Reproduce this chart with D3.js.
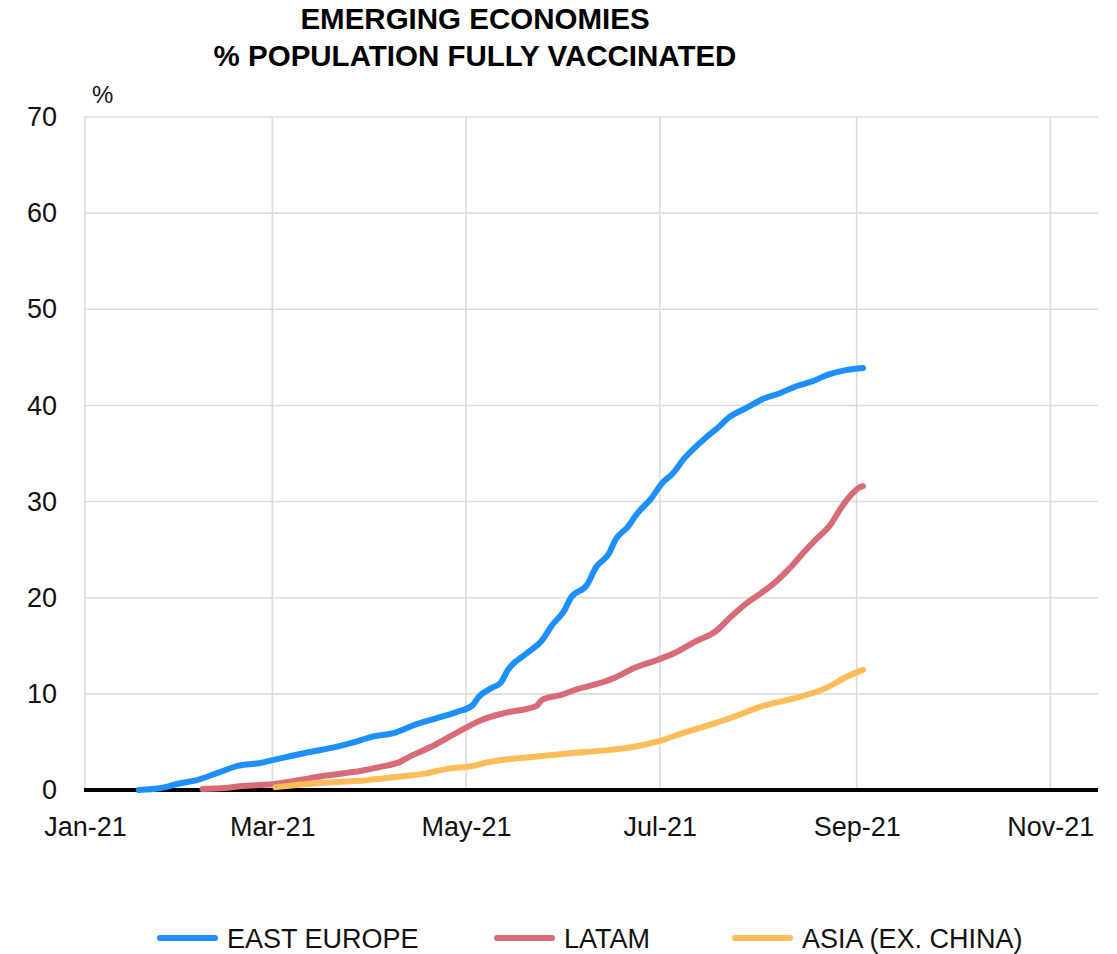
<!DOCTYPE html>
<html>
<head>
<meta charset="utf-8">
<script src="https://cdn.jsdelivr.net/npm/d3@7"></script>
<style>
  html, body { margin: 0; padding: 0; background: #fff; }
  svg { display: block; font-family: "Liberation Sans", Arial, sans-serif; }
</style>
</head>
<body>
<svg id="chart" width="1117" height="954"></svg>
<script>
// ---- Data ----
const titleLines = ["EMERGING ECONOMIES", "% POPULATION FULLY VACCINATED"];
const yTicks = [0, 10, 20, 30, 40, 50, 60, 70];
const xTickDates = ["2021-01-01", "2021-03-01", "2021-05-01", "2021-07-01", "2021-09-01", "2021-11-01"];
const xTickLabels = ["Jan-21", "Mar-21", "May-21", "Jul-21", "Sep-21", "Nov-21"];
const seriesNames = ["EAST EUROPE", "LATAM", "ASIA (EX. CHINA)"];

const eastEuropeDates = ["2021-01-18","2021-01-25","2021-01-31","2021-02-05","2021-02-12","2021-02-18","2021-02-25","2021-03-01","2021-03-05","2021-03-12","2021-03-20","2021-03-26","2021-04-01","2021-04-09","2021-04-15","2021-04-22","2021-04-28","2021-05-03","2021-05-05","2021-05-09","2021-05-12","2021-05-14","2021-05-20","2021-05-25","2021-05-28","2021-06-01","2021-06-03","2021-06-08","2021-06-11","2021-06-15","2021-06-17","2021-06-21","2021-06-24","2021-06-28","2021-07-02","2021-07-05","2021-07-09","2021-07-12","2021-07-16","2021-07-19","2021-07-23","2021-07-28","2021-08-02","2021-08-08","2021-08-13","2021-08-18","2021-08-23","2021-08-29","2021-09-03"];
const eastEuropeValues = [0.0,0.2,0.7,1.0,1.8,2.5,2.8,3.1,3.4,3.9,4.4,4.9,5.5,6.0,6.8,7.5,8.1,8.8,9.7,10.6,11.2,12.4,14.2,15.6,17.1,18.7,20.0,21.3,23.2,24.6,26.0,27.4,28.8,30.2,32.0,32.9,34.6,35.6,36.8,37.6,38.8,39.7,40.6,41.3,42.0,42.5,43.2,43.7,43.9];

const latamDates = ["2021-02-07","2021-02-14","2021-02-19","2021-03-01","2021-03-07","2021-03-18","2021-03-29","2021-04-04","2021-04-10","2021-04-14","2021-04-20","2021-04-25","2021-04-30","2021-05-06","2021-05-13","2021-05-23","2021-05-25","2021-05-31","2021-06-05","2021-06-11","2021-06-17","2021-06-23","2021-06-30","2021-07-06","2021-07-12","2021-07-19","2021-07-23","2021-07-29","2021-08-02","2021-08-07","2021-08-11","2021-08-15","2021-08-19","2021-08-24","2021-08-27","2021-08-30","2021-09-02","2021-09-03"];
const latamValues = [0.1,0.2,0.4,0.6,0.9,1.5,2.0,2.4,2.9,3.6,4.5,5.4,6.3,7.3,8.0,8.7,9.4,9.9,10.5,11.0,11.7,12.7,13.5,14.3,15.4,16.6,17.9,19.6,20.5,21.8,23.1,24.6,26.0,27.7,29.3,30.6,31.5,31.6];

const asiaDates = ["2021-03-02","2021-03-08","2021-03-20","2021-03-30","2021-04-10","2021-04-18","2021-04-25","2021-05-03","2021-05-08","2021-05-14","2021-05-21","2021-06-02","2021-06-16","2021-06-23","2021-07-01","2021-07-08","2021-07-17","2021-07-25","2021-08-02","2021-08-08","2021-08-12","2021-08-23","2021-08-29","2021-09-03"];
const asiaValues = [0.3,0.5,0.8,1.0,1.4,1.7,2.2,2.5,2.9,3.2,3.4,3.8,4.2,4.5,5.1,5.9,6.8,7.7,8.7,9.2,9.5,10.7,11.8,12.5];

const colors = ["#1E8FFF", "#D96A78", "#FFBD5A"];

// ---- Build ----
const parse = d3.timeParse("%Y-%m-%d");
const series = [
  { name: seriesNames[0], dates: eastEuropeDates, values: eastEuropeValues, color: colors[0] },
  { name: seriesNames[1], dates: latamDates, values: latamValues, color: colors[1] },
  { name: seriesNames[2], dates: asiaDates, values: asiaValues, color: colors[2] }
].map(s => ({ ...s, points: s.dates.map((d, i) => ({ date: parse(d), value: s.values[i] })) }));

const svg = d3.select("#chart");
const x = d3.scaleTime().domain([parse("2021-01-01"), parse("2021-11-16")]).range([85, 1098]);
const y = d3.scaleLinear().domain([0, 70]).range([790, 117]);

// Title
svg.append("g").selectAll("text").data(titleLines).join("text")
  .attr("x", 475).attr("y", (d, i) => 29 + i * 37)
  .attr("text-anchor", "middle")
  .attr("font-weight", "bold").attr("font-size", 29.5)
  .attr("fill", "#000").text(d => d);

// % unit label
svg.append("text").attr("x", 92).attr("y", 103).attr("font-size", 24).attr("fill", "#111").text("%");

// Gridlines horizontal
svg.append("g").selectAll("line").data(yTicks).join("line")
  .attr("x1", 84).attr("x2", 1098)
  .attr("y1", d => y(d)).attr("y2", d => y(d))
  .attr("stroke", "#dcdcdc").attr("stroke-width", 1.6);

// Gridlines vertical
const xTicks = xTickDates.map(parse);
svg.append("g").selectAll("line").data(xTicks).join("line")
  .attr("x1", d => x(d)).attr("x2", d => x(d))
  .attr("y1", 117).attr("y2", 790)
  .attr("stroke", "#dcdcdc").attr("stroke-width", 1.6);

// Y axis labels
const yAxis = d3.axisLeft(y).tickValues(yTicks).tickSize(0).tickPadding(0);
const gy = svg.append("g").attr("transform", "translate(57,0)").call(yAxis);
gy.select(".domain").remove();
gy.selectAll("text").attr("font-size", 27).attr("fill", "#111")
  .attr("font-family", "'Liberation Sans', Arial, sans-serif");

// X axis labels
const xAxis = d3.axisBottom(x).tickValues(xTicks).tickFormat((d, i) => xTickLabels[i]).tickSize(0).tickPadding(0);
const gx = svg.append("g").attr("transform", "translate(0,817)").call(xAxis);
gx.select(".domain").remove();
gx.selectAll("text").attr("font-size", 27).attr("fill", "#111").attr("dy", "0.71em")
  .attr("font-family", "'Liberation Sans', Arial, sans-serif");

// Zero line
svg.append("line").attr("x1", 84).attr("x2", 1098).attr("y1", y(0)).attr("y2", y(0))
  .attr("stroke", "#000").attr("stroke-width", 4);

// Lines
const line = d3.line().x(d => x(d.date)).y(d => y(d.value)).curve(d3.curveMonotoneX);
svg.append("g").selectAll("path").data(series).join("path")
  .attr("d", d => line(d.points))
  .attr("fill", "none").attr("stroke", d => d.color)
  .attr("stroke-width", 6).attr("stroke-linecap", "round").attr("stroke-linejoin", "round");

// Legend
const legendX = [160, 497, 735];
const lg = svg.append("g").selectAll("g").data(series).join("g")
  .attr("transform", (d, i) => `translate(${legendX[i]},938)`);
lg.append("line").attr("x1", 0).attr("x2", 55).attr("y1", 0).attr("y2", 0)
  .attr("stroke", d => d.color).attr("stroke-width", 6).attr("stroke-linecap", "round");
lg.append("text").attr("x", 67).attr("y", 10).attr("font-size", 27).attr("fill", "#111").text(d => d.name);
</script>
</body>
</html>
